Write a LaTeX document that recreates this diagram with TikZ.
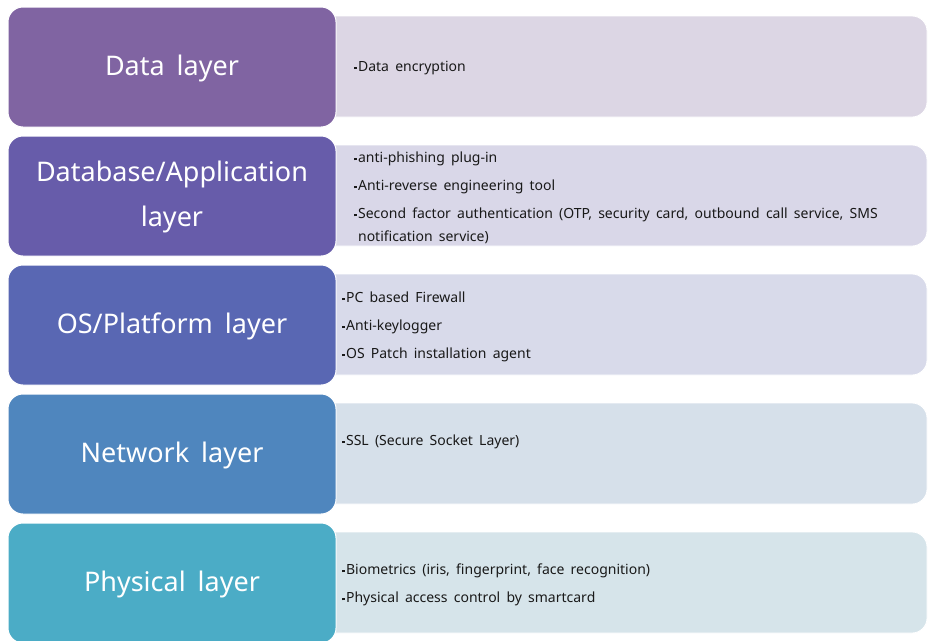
\documentclass[tikz,border=0pt]{standalone}
\usepackage{fontspec}
\setmainfont{Noto Sans}[WordSpace=1.7]
\usetikzlibrary{positioning}
\definecolor{dataC}{HTML}{8064A2}
\definecolor{dbC}{HTML}{675CAA}
\definecolor{osC}{HTML}{5967B3}
\definecolor{netC}{HTML}{4F86BE}
\definecolor{physC}{HTML}{4BACC6}
\definecolor{dataL}{HTML}{DCD6E4}
\definecolor{dbL}{HTML}{D9D7E8}
\definecolor{osL}{HTML}{D8DAEA}
\definecolor{netL}{HTML}{D6E0EA}
\definecolor{physL}{HTML}{D6E4EA}
\tikzset{layer/.style={draw=white,line width=1pt,rounded corners=15pt,fill=#1,minimum width=328pt,minimum height=120pt,text=white,align=center,text depth=4pt,font=\fontsize{27}{45}\selectfont},detail/.style={draw=white,line width=0.8pt,rounded corners=15pt,fill=#1,minimum width=627pt,minimum height=101pt},items/.style={anchor=west,align=left,inner sep=0pt,text=black!90,font=\fontsize{14}{23}\selectfont}}
\newcommand{\bul}{\raisebox{0.32ex}{\rule{2.4pt}{2.4pt}}\hspace{1.5pt}}

\begin{document}
\begin{tikzpicture}[x=1pt,y=-1pt]
\useasboundingbox (0,0) rectangle (928,640);
\fill[white] (0,0) rectangle (928,640);
% detail boxes sit behind the layer boxes
\node[detail=dataL] (dataBox) at (613.5,66.5) {};
\node[detail=dbL] (dbBox) at (613.5,195.5) {};
\node[detail=osL] (osBox) at (613.5,324.5) {};
\node[detail=netL] (netBox) at (613.5,453.5) {};
\node[detail=physL] (physBox) at (613.5,582.5) {};
% layers
\node[layer=dataC] (data) at (172,67) {Data layer};
\node[layer=dbC,below=8pt of data] (dbapp) {Database/Application\\layer};
\node[layer=osC,below=8pt of dbapp] (os) {OS/Platform layer};
\node[layer=netC,below=8pt of os] (net) {Network layer};
\node[layer=physC,below=8pt of net] (phys) {Physical layer};
% items
\node[items] (dataTxt) at (354,68) {\bul Data encryption};
\node[items] (dbTxt) at (354,198) {\bul anti-phishing plug-in\\[5pt]\bul Anti-reverse engineering tool\\[5pt]\bul Second factor authentication (OTP, security card, outbound call service, SMS\\\hphantom{\bul}notification service)};
\node[items] (osTxt) at (342,327) {\bul PC based Firewall\\[5pt]\bul Anti-keylogger\\[5pt]\bul OS Patch installation agent};
\node[items] (netTxt) at (342,442) {\bul SSL (Secure Socket Layer)};
\node[items] (physTxt) at (342,585) {\bul Biometrics (iris, fingerprint, face recognition)\\[5pt]\bul Physical access control by smartcard};
\end{tikzpicture}
\end{document}
